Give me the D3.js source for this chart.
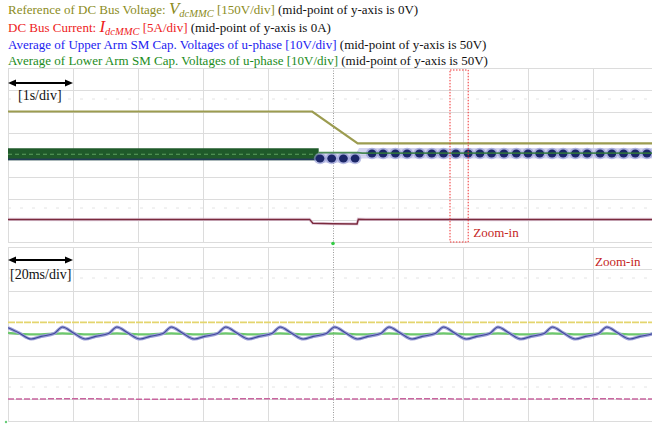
<!DOCTYPE html>
<html>
<head>
<meta charset="utf-8">
<script src="https://cdn.jsdelivr.net/npm/d3@7"></script>
<style>
  html, body { margin: 0; padding: 0; background: #ffffff; }
  svg { display: block; }
  text { font-family: "Liberation Serif", "Times New Roman", serif; white-space: pre; }
</style>
</head>
<body>
<svg id="chart" width="652" height="427"></svg>
<script>
// ---------------- Overview record, 1 s/div ----------------
const overviewSpanS = [0, 10];

// DC bus voltage reference (150 V/div, centre = 0 V)
const refVoltTimeS = [0, 4.68, 5.38, 10];
const refVoltV     = [300, 300, 80, 80];

// DC bus current (5 A/div, centre = 0 A)
const dcCurrentTimeS = [0, 1.2, 2.5, 3.6, 4.64, 4.69, 5.0, 5.37, 5.39, 5.5, 6.5, 7.5, 8.5, 10];
const dcCurrentA     = [-14.8, -14.85, -14.8, -14.8, -14.8, -15.7, -15.8, -15.85, -14.75, -14.8, -14.8, -14.85, -14.8, -14.8];

// Arm capacitor voltages (10 V/div, centre = 50 V): dense ripple band before the ramp
const capBandTimeS = [0, 4.78];
const capBandHighV = [53.1, 53.1];
const capBandLowV  = [47.6, 47.6];

// Upper arm ripple envelope after the ramp starts
const upperHaloTimeS = [4.78, 5.36, 5.40, 10];
const upperHaloHighV = [50.9, 50.9, 53.2, 53.2];
const upperHaloLowV  = [46.4, 46.4, 48.4, 48.4];

// Upper arm aliased ripple crests
const upperBlobTimeS = [4.80, 4.98, 5.16, 5.34, 5.60, 5.77, 5.96, 6.14, 6.33, 6.52, 6.70, 6.89, 7.08, 7.26,
                        7.44, 7.63, 7.82, 8.00, 8.18, 8.37, 8.54, 8.73, 8.91, 9.11, 9.29, 9.47, 9.65, 9.83, 10.01];
const upperBlobV     = [48.4, 48.4, 48.4, 48.4, 50.7, 50.7, 50.7, 50.7, 50.7, 50.7, 50.7, 50.7, 50.7, 50.7,
                        50.7, 50.7, 50.7, 50.7, 50.7, 50.7, 50.7, 50.7, 50.7, 50.7, 50.7, 50.7, 50.7, 50.7, 50.7];

// Lower arm average after the ramp starts
const lowerArmTimeS = [4.78, 5.38, 5.45, 10];
const lowerArmV     = [51.1, 51.1, 50.9, 50.9];

// Zoomed window marked on the overview
const zoomWindowS = [6.80, 7.08];

// ---------------- Zoomed record, 20 ms/div ----------------
const zoomSpanMs = [0, 200];

const zoomRefTimeMs = [0, 200];
const zoomRefV      = [80, 80];

const zoomCurrentTimeMs = [0, 22, 48, 75, 101, 128, 152, 178, 200];
const zoomCurrentA      = [-14.95, -14.9, -15.0, -14.9, -14.95, -14.9, -14.95, -14.9, -14.95];

const upperZoomTimeMs = [
  0, 3.4, 7.1, 10.2, 14.2,
  16.75, 20.15, 23.85, 26.95, 30.95,
  33.5, 36.9, 40.6, 43.7, 47.7,
  50.25, 53.65, 57.35, 60.45, 64.45,
  67.0, 70.4, 74.1, 77.2, 81.2,
  83.75, 87.15, 90.85, 93.95, 97.95,
  100.5, 103.9, 107.6, 110.7, 114.7,
  117.25, 120.65, 124.35, 127.45, 131.45,
  134.0, 137.4, 141.1, 144.2, 148.2,
  150.75, 154.15, 157.85, 160.95, 164.95,
  167.5, 170.9, 174.6, 177.7, 181.7,
  184.25, 187.65, 191.35, 194.45, 198.45,
  201.0
];
const upperZoomV = [
  52.9, 50.5, 47.7, 48.9, 50.2,
  53.2, 50.5, 47.7, 48.9, 50.2,
  53.2, 50.5, 47.7, 48.9, 50.2,
  53.2, 50.5, 47.7, 48.9, 50.2,
  53.2, 50.5, 47.7, 48.9, 50.2,
  53.2, 50.5, 47.7, 48.9, 50.2,
  53.2, 50.5, 47.7, 48.9, 50.2,
  53.2, 50.5, 47.7, 48.9, 50.2,
  53.2, 50.5, 47.7, 48.9, 50.2,
  53.2, 50.5, 47.7, 48.9, 50.2,
  53.2, 50.5, 47.7, 48.9, 50.2,
  53.2, 50.5, 47.7, 48.9, 50.2,
  53.2
];

const lowerZoomTimeMs = [0, 8.4, 16.75, 25.15, 33.5, 41.9, 50.25, 58.65, 67.0, 75.4, 83.75, 92.15,
                         100.5, 108.9, 117.25, 125.65, 134.0, 142.4, 150.75, 159.15, 167.5, 175.9, 184.25, 192.65, 201.0];
const lowerZoomV     = [50.5, 49.8, 50.3, 49.8, 50.3, 49.8, 50.3, 49.8, 50.3, 49.8, 50.3, 49.8,
                        50.3, 49.8, 50.3, 49.8, 50.3, 49.8, 50.3, 49.8, 50.3, 49.8, 50.3, 49.8, 50.3];

// Legend rows
const C_OLIVE = "#8c8c1c", C_RED = "#ee1c1c", C_BLUE = "#1c1cf0", C_GREEN = "#1c8c1c", C_BLACK = "#111111";
const legendRows = [
  [ {t: "Reference of DC Bus Voltage: ", c: C_OLIVE},
    {t: "V", c: C_OLIVE, it: true, fs: 17},
    {t: "dcMMC", c: C_OLIVE, it: true, fs: 10.5, dy: 3},
    {t: " [150V/div]", c: C_OLIVE, dy: -3},
    {t: " (mid-point of y-axis is 0V)", c: C_BLACK} ],
  [ {t: "DC Bus Current: ", c: C_RED},
    {t: "I", c: C_RED, it: true, fs: 17},
    {t: "dcMMC", c: C_RED, it: true, fs: 10.5, dy: 3},
    {t: " [5A/div]", c: C_RED, dy: -3},
    {t: " (mid-point of y-axis is 0A)", c: C_BLACK} ],
  [ {t: "Average of Upper Arm SM Cap. Voltages of u-phase [10V/div]", c: C_BLUE},
    {t: " (mid-point of y-axis is 50V)", c: C_BLACK} ],
  [ {t: "Average of Lower Arm SM Cap. Voltages of u-phase [10V/div]", c: C_GREEN},
    {t: " (mid-point of y-axis is 50V)", c: C_BLACK} ]
];
const legendBaselines = [14, 32, 49, 65];

// ---------------- Drawing ----------------
const svg = d3.select("#chart");
const X0 = 8, X1 = 658, VIEW_R = 652;
const panels = [
  {top: 68, bottom: 242},
  {top: 247, bottom: 421}
];

// legend
legendRows.forEach((row, i) => {
  const txt = svg.append("text")
    .attr("x", 8).attr("y", legendBaselines[i])
    .attr("font-size", 13);
  row.forEach(p => {
    const ts = txt.append("tspan").text(p.t).attr("fill", p.c);
    if (p.it) ts.attr("font-style", "italic");
    if (p.fs) ts.attr("font-size", p.fs);
    if (p.dy) ts.attr("dy", p.dy);
  });
});

const divX = d3.scaleLinear().domain([0, 10]).range([X0, X1]);

panels.forEach((pn, pi) => {
  const divY = d3.scaleLinear().domain([-4, 4]).range([pn.bottom, pn.top]);
  const g = svg.append("g");
  // faint marker rows
  [pn.top + 31, pn.top + 140].forEach(y => {
    g.append("line").attr("x1", X0).attr("x2", VIEW_R).attr("y1", y).attr("y2", y)
      .attr("stroke", "#e4e4e4").attr("stroke-width", 1).attr("stroke-dasharray", "3,9");
  });
  // horizontal divisions
  g.selectAll("line.h").data(d3.range(-4, 5)).join("line")
    .attr("class", "h")
    .attr("x1", X0).attr("x2", VIEW_R)
    .attr("y1", d => Math.round(divY(d)) + 0.5).attr("y2", d => Math.round(divY(d)) + 0.5)
    .attr("stroke", "#dcdcdc").attr("stroke-width", 1);
  // vertical divisions
  g.selectAll("line.v").data(d3.range(0, 11).filter(d => d !== 5)).join("line")
    .attr("class", "v")
    .attr("x1", d => Math.round(divX(d)) + 0.5).attr("x2", d => Math.round(divX(d)) + 0.5)
    .attr("y1", pn.top).attr("y2", pn.bottom)
    .attr("stroke", "#dcdcdc").attr("stroke-width", 1);
  // centre time line
  g.append("line")
    .attr("x1", Math.round(divX(5)) + 0.5).attr("x2", Math.round(divX(5)) + 0.5)
    .attr("y1", pn.top).attr("y2", pn.bottom)
    .attr("stroke", "#9a9a9a").attr("stroke-width", 1).attr("stroke-dasharray", "1,1.5");

  svg.append("clipPath").attr("id", "clip" + pi)
    .append("rect").attr("x", X0).attr("y", pn.top).attr("width", VIEW_R - X0).attr("height", pn.bottom - pn.top);
});

// time scales
const xOver = d3.scaleLinear().domain(overviewSpanS).range([X0, X1]);
const xZoom = d3.scaleLinear().domain(zoomSpanMs).range([X0, X1]);

// channel scales per panel: 4 divisions either side of centre
function channelScales(pn) {
  return {
    volt: d3.scaleLinear().domain([-600, 600]).range([pn.bottom, pn.top]),
    amp:  d3.scaleLinear().domain([-20, 20]).range([pn.bottom, pn.top]),
    cap:  d3.scaleLinear().domain([10, 90]).range([pn.bottom, pn.top])
  };
}
const sTop = channelScales(panels[0]);
const sBot = channelScales(panels[1]);

const zip = (a, b) => a.map((v, i) => [v, b[i]]);

// ---- overview traces ----
const gTop = svg.append("g").attr("clip-path", "url(#clip0)");

// dense ripple band
gTop.append("path")
  .datum(capBandTimeS.map((t, i) => ({t, hi: capBandHighV[i], lo: capBandLowV[i]})))
  .attr("d", d3.area().x(d => xOver(d.t)).y0(d => sTop.cap(d.lo)).y1(d => sTop.cap(d.hi)))
  .attr("fill", "#1f5a2a");
gTop.append("path")
  .datum(zip(capBandTimeS, capBandLowV))
  .attr("d", d3.line().x(d => xOver(d[0])).y(d => sTop.cap(d[1]) - 0.8))
  .attr("stroke", "#26306e").attr("stroke-width", 1.6).attr("fill", "none").attr("opacity", 0.7);
gTop.append("path")
  .datum(zip(capBandTimeS, capBandHighV.map((h, i) => (h + capBandLowV[i]) / 2)))
  .attr("d", d3.line().x(d => xOver(d[0])).y(d => sTop.cap(d[1])))
  .attr("stroke", "#5fa060").attr("stroke-width", 1.2).attr("fill", "none").attr("stroke-dasharray", "4,3");

// upper arm halo
gTop.append("path")
  .datum(upperHaloTimeS.map((t, i) => ({t, hi: upperHaloHighV[i], lo: upperHaloLowV[i]})))
  .attr("d", d3.area().x(d => xOver(d.t)).y0(d => sTop.cap(d.lo)).y1(d => sTop.cap(d.hi)))
  .attr("fill", "#c4c6ea").attr("opacity", 0.75);
// upper arm crests
const blobs = zip(upperBlobTimeS, upperBlobV);
gTop.selectAll("ellipse.halo").data(blobs).join("ellipse").attr("class", "halo")
  .attr("cx", d => xOver(d[0])).attr("cy", d => sTop.cap(d[1]))
  .attr("rx", 6.2).attr("ry", 5.8).attr("fill", "#8e94d2").attr("opacity", 0.6);
gTop.selectAll("ellipse.core").data(blobs).join("ellipse").attr("class", "core")
  .attr("cx", d => xOver(d[0])).attr("cy", d => sTop.cap(d[1]))
  .attr("rx", 4.4).attr("ry", 4.0).attr("fill", "#1b2668");
// lower arm
gTop.append("path")
  .datum(zip(lowerArmTimeS, lowerArmV))
  .attr("d", d3.line().x(d => xOver(d[0])).y(d => sTop.cap(d[1])))
  .attr("stroke", "#2f7a3a").attr("stroke-width", 1.8).attr("fill", "none").attr("opacity", 0.85);

// dc current
gTop.append("path")
  .datum(zip(dcCurrentTimeS, dcCurrentA))
  .attr("d", d3.line().x(d => xOver(d[0])).y(d => sTop.amp(d[1])))
  .attr("stroke", "#d8b8d0").attr("stroke-width", 3.2).attr("fill", "none").attr("opacity", 0.6);
gTop.append("path")
  .datum(zip(dcCurrentTimeS, dcCurrentA))
  .attr("d", d3.line().x(d => xOver(d[0])).y(d => sTop.amp(d[1])))
  .attr("stroke", "#7a2a3c").attr("stroke-width", 1.5).attr("fill", "none");

// voltage reference
gTop.append("path")
  .datum(zip(refVoltTimeS, refVoltV))
  .attr("d", d3.line().x(d => xOver(d[0])).y(d => sTop.volt(d[1])))
  .attr("stroke", "#9c9c50").attr("stroke-width", 2.2).attr("fill", "none");

// zoom window marker
svg.append("rect")
  .attr("x", xOver(zoomWindowS[0])).attr("y", 70)
  .attr("width", xOver(zoomWindowS[1]) - xOver(zoomWindowS[0])).attr("height", 172)
  .attr("fill", "none").attr("stroke", "#f03030").attr("stroke-width", 1).attr("stroke-dasharray", "1.5,1.5");
svg.append("text").attr("x", xOver(zoomWindowS[1]) + 5).attr("y", 237)
  .attr("font-size", 13).attr("fill", "#c42424").text("Zoom-in");

// ---- zoomed traces ----
const gBot = svg.append("g").attr("clip-path", "url(#clip1)");

gBot.append("path")
  .datum(zip(zoomRefTimeMs, zoomRefV))
  .attr("d", d3.line().x(d => xZoom(d[0])).y(d => sBot.volt(d[1])))
  .attr("stroke", "#e4d56e").attr("stroke-width", 1.8).attr("fill", "none").attr("stroke-dasharray", "7,1");

gBot.append("path")
  .datum(zip(zoomCurrentTimeMs, zoomCurrentA))
  .attr("d", d3.line().curve(d3.curveMonotoneX).x(d => xZoom(d[0])).y(d => sBot.amp(d[1])))
  .attr("stroke", "#c8649e").attr("stroke-width", 1.5).attr("fill", "none").attr("stroke-dasharray", "6,2");

gBot.append("path")
  .datum(zip(lowerZoomTimeMs, lowerZoomV))
  .attr("d", d3.line().curve(d3.curveMonotoneX).x(d => xZoom(d[0])).y(d => sBot.cap(d[1])))
  .attr("stroke", "#6cc86c").attr("stroke-width", 2.2).attr("fill", "none");

gBot.append("path")
  .datum(zip(upperZoomTimeMs, upperZoomV))
  .attr("d", d3.line().curve(d3.curveMonotoneX).x(d => xZoom(d[0])).y(d => sBot.cap(d[1])))
  .attr("stroke", "#9c9ed8").attr("stroke-width", 3.2).attr("fill", "none");
gBot.append("path")
  .datum(zip(upperZoomTimeMs, upperZoomV))
  .attr("d", d3.line().curve(d3.curveMonotoneX).x(d => xZoom(d[0])).y(d => sBot.cap(d[1])))
  .attr("stroke", "#3f4a98").attr("stroke-width", 1.1).attr("fill", "none");

svg.append("text").attr("x", 595).attr("y", 266)
  .attr("font-size", 13).attr("fill", "#c42424").text("Zoom-in");

// ---- time-base annotations ----
function doubleArrow(y, x1, x2) {
  const head = 8, half = 3.5;
  svg.append("line").attr("x1", x1 + head - 1).attr("x2", x2 - head + 1).attr("y1", y).attr("y2", y)
    .attr("stroke", "#000").attr("stroke-width", 2);
  svg.append("path").attr("d", `M${x1},${y}L${x1 + head},${y - half}L${x1 + head},${y + half}Z`).attr("fill", "#000");
  svg.append("path").attr("d", `M${x2},${y}L${x2 - head},${y - half}L${x2 - head},${y + half}Z`).attr("fill", "#000");
}
doubleArrow(83, xOver(0), xOver(1));
svg.append("text").attr("x", 18).attr("y", 100).attr("font-size", 14).attr("fill", "#111").text("[1s/div]");
doubleArrow(260, xZoom(0), xZoom(20));
svg.append("text").attr("x", 10).attr("y", 279).attr("font-size", 14).attr("fill", "#111").text("[20ms/div]");

// trigger markers
svg.append("circle").attr("cx", divX(5)).attr("cy", 243.5).attr("r", 1.8).attr("fill", "#33cc44");
svg.append("circle").attr("cx", 6).attr("cy", 422).attr("r", 1.2).attr("fill", "#66cc77");
</script>
</body>
</html>
